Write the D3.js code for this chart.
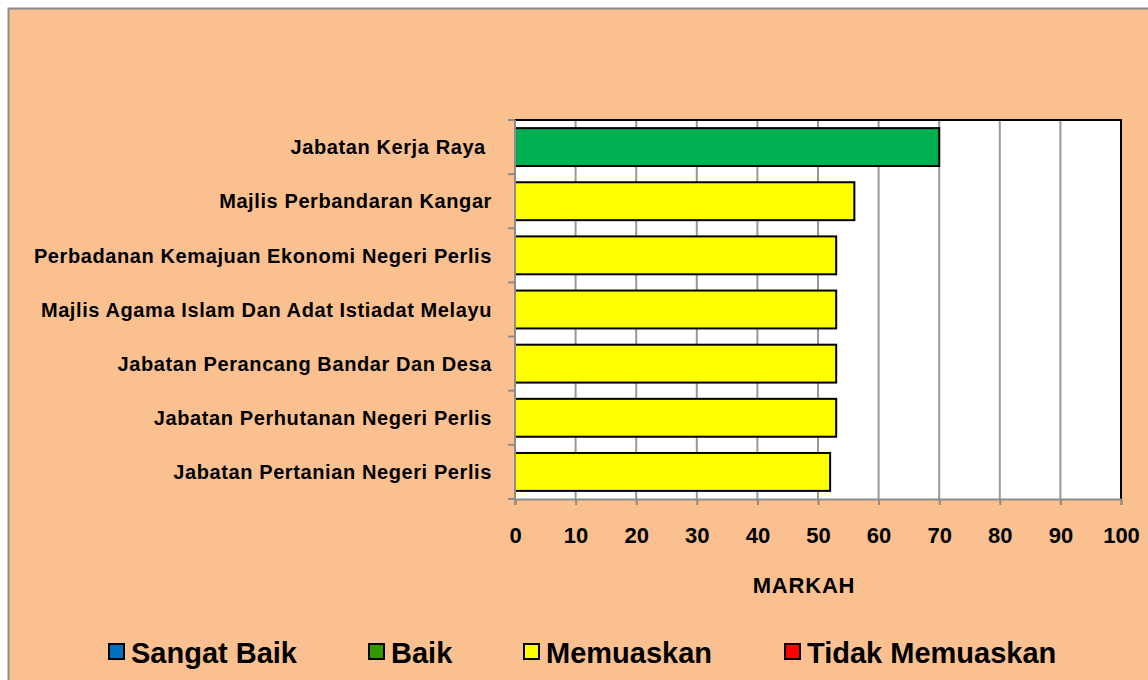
<!DOCTYPE html>
<html>
<head>
  <title>Markah</title>
  <script src="https://d3js.org/d3.v7.min.js"></script>
  <style>
    body { margin: 0; background: #fff; }
    text { font-family: Arial, "Liberation Sans", sans-serif; font-weight: bold; fill: #000; }
  </style>
</head>
<body>
<div id="chart"></div>
<script>
  // data
  var categories = [
    "Jabatan Kerja Raya ",
    "Majlis Perbandaran Kangar",
    "Perbadanan Kemajuan Ekonomi Negeri Perlis",
    "Majlis Agama Islam Dan Adat Istiadat Melayu",
    "Jabatan Perancang Bandar Dan Desa",
    "Jabatan Perhutanan Negeri Perlis",
    "Jabatan Pertanian Negeri Perlis"
  ];
  var markah = [70, 56, 53, 53, 53, 53, 52];
  var barColors = ["#00B050", "#FFFF00", "#FFFF00", "#FFFF00", "#FFFF00", "#FFFF00", "#FFFF00"];
  var xTicks = [0, 10, 20, 30, 40, 50, 60, 70, 80, 90, 100];
  var legendLabels = ["Sangat Baik", "Baik", "Memuaskan", "Tidak Memuaskan"];
  var legendColors = ["#0070C0", "#339900", "#FFFF00", "#FF0000"];

  var W = 1148, H = 680;
  var plot = {left: 515, right: 1121, top: 120, bottom: 499};

  var svg = d3.select("#chart").append("svg")
    .attr("width", W).attr("height", H);

  // outer chart area
  svg.append("rect")
    .attr("x", 8.5).attr("y", 8.5)
    .attr("width", W + 20).attr("height", H + 20)
    .attr("fill", "#FAC090")
    .attr("stroke", "#8c8c8c").attr("stroke-width", 2);

  var x = d3.scaleLinear().domain([0, 100]).range([plot.left, plot.right]);
  var y = d3.scaleBand().domain(categories)
    .range([plot.top, plot.bottom])
    .paddingInner(0.3).paddingOuter(0.15);

  // plot area
  svg.append("rect")
    .attr("x", plot.left).attr("y", plot.top)
    .attr("width", plot.right - plot.left).attr("height", plot.bottom - plot.top)
    .attr("fill", "#fff");

  // gridlines
  svg.append("g").selectAll("line")
    .data(xTicks.slice(1, -1))
    .enter().append("line")
    .attr("x1", function(d) { return x(d); })
    .attr("x2", function(d) { return x(d); })
    .attr("y1", plot.top).attr("y2", plot.bottom)
    .attr("stroke", "#999").attr("stroke-width", 2);

  // border top/right
  svg.append("path")
    .attr("d", "M" + plot.left + "," + plot.top + "H" + plot.right + "V" + plot.bottom)
    .attr("fill", "none").attr("stroke", "#000").attr("stroke-width", 2);

  // bars
  svg.append("g").selectAll("rect")
    .data(markah)
    .enter().append("rect")
    .attr("x", x(0))
    .attr("y", function(d, i) { return y(categories[i]); })
    .attr("width", function(d) { return x(d) - x(0); })
    .attr("height", y.bandwidth())
    .attr("fill", function(d, i) { return barColors[i]; })
    .attr("stroke", "#000").attr("stroke-width", 2);

  // x axis
  var xAxis = svg.append("g")
    .attr("transform", "translate(0," + plot.bottom + ")")
    .call(d3.axisBottom(x).tickValues(xTicks).tickSize(6).tickPadding(22));
  xAxis.select(".domain").attr("stroke", "#8c8c8c").attr("stroke-width", 2);
  xAxis.selectAll(".tick line").attr("stroke", "#8c8c8c").attr("stroke-width", 2);
  xAxis.selectAll(".tick text")
    .style("font-size", "22px").style("font-family", "Arial, 'Liberation Sans', sans-serif")
    .style("font-weight", "bold").attr("fill", "#000");

  // y axis with ticks between categories
  var yTickPos = d3.range(categories.length + 1).map(function(i) {
    return plot.top + i * (plot.bottom - plot.top) / categories.length;
  });
  svg.append("line")
    .attr("x1", plot.left).attr("x2", plot.left)
    .attr("y1", plot.top).attr("y2", plot.bottom)
    .attr("stroke", "#8c8c8c").attr("stroke-width", 2);
  svg.append("g").selectAll("line")
    .data(yTickPos)
    .enter().append("line")
    .attr("x1", plot.left - 7).attr("x2", plot.left)
    .attr("y1", function(d) { return d; }).attr("y2", function(d) { return d; })
    .attr("stroke", "#8c8c8c").attr("stroke-width", 2);

  // category labels
  svg.append("g").selectAll("text")
    .data(categories)
    .enter().append("text")
    .attr("x", 492)
    .attr("y", function(d) { return y(d) + y.bandwidth() / 2; })
    .attr("dy", "0.36em")
    .attr("text-anchor", "end")
    .style("font-size", "20px")
    .style("letter-spacing", "0.6px")
    .style("white-space", "pre")
    .text(function(d) { return d; });

  // axis title
  svg.append("text")
    .attr("x", 804)
    .attr("y", 593)
    .attr("text-anchor", "middle")
    .style("font-size", "22px")
    .style("letter-spacing", "0.8px")
    .text("MARKAH");

  // legend
  var legendX = [109, 369, 524, 785];
  var legend = svg.append("g").selectAll("g")
    .data(legendLabels)
    .enter().append("g")
    .attr("transform", function(d, i) { return "translate(" + legendX[i] + ",644)"; });
  legend.append("rect")
    .attr("width", 15).attr("height", 15)
    .attr("fill", function(d, i) { return legendColors[i]; })
    .attr("stroke", "#000").attr("stroke-width", 2);
  legend.append("text")
    .attr("x", 22).attr("y", 19)
    .style("font-size", "29px")
    .text(function(d) { return d; });
</script>
</body>
</html>
